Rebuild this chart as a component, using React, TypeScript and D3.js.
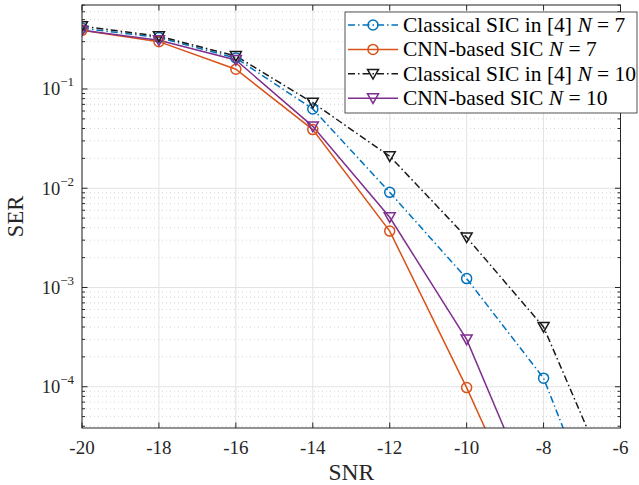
import * as d3 from 'd3';
import React from 'react';

// SNR points (dB)
const snr = [-20, -18, -16, -14, -12, -10, -8, -6];

// symbol error rate per scheme
const classicalN7 = [0.41, 0.33, 0.205, 0.063, 0.0091, 0.00123, 0.000122, 1.3e-6];
const cnnN7 = [0.39, 0.30, 0.158, 0.039, 0.0037, 0.000098, 1.9e-6];
const classicalN10 = [0.43, 0.34, 0.215, 0.0727, 0.021, 0.0032, 0.0004, 6.3e-6];
const cnnN10 = [0.39, 0.31, 0.196, 0.042, 0.0051, 0.0003, 4.4e-6];

const xTicks = [-20, -18, -16, -14, -12, -10, -8, -6];
const yDecades = [-4, -3, -2, -1];

const series = [
  { name: 'Classical SIC in [4]', n: 7, values: classicalN7, color: '#0072BD', dash: '7,3,1.5,3', marker: 'circle' },
  { name: 'CNN-based SIC', n: 7, values: cnnN7, color: '#D95319', dash: null, marker: 'circle' },
  { name: 'Classical SIC in [4]', n: 10, values: classicalN10, color: '#1a1a1a', dash: '7,3,1.5,3', marker: 'triangle' },
  { name: 'CNN-based SIC', n: 10, values: cnnN10, color: '#7E2F8E', dash: null, marker: 'triangle' },
];

const W = 639;
const H = 485;
const plot = { left: 82, right: 620.5, top: 5, bottom: 428 };
const font = '"Liberation Serif", serif';

function Marker({ type, x, y, color }: { type: string; x: number; y: number; color: string }) {
  if (type === 'circle') {
    return <circle cx={x} cy={y} r={5} fill="none" stroke={color} strokeWidth={1.5} />;
  }
  const s = 5.5;
  return (
    <path
      d={`M${x - s},${y - s * 0.8}L${x + s},${y - s * 0.8}L${x},${y + s * 0.95}Z`}
      fill="none"
      stroke={color}
      strokeWidth={1.5}
      strokeLinejoin="miter"
    />
  );
}

export default function App() {
  const x = d3.scaleLinear().domain([-20, -6]).range([plot.left, plot.right]);
  const y = d3.scaleLog().domain([3.84e-5, 0.702]).range([plot.bottom, plot.top]);

  const line = d3
    .line<[number, number]>()
    .x((d) => x(d[0]))
    .y((d) => y(d[1]));

  const minor: number[] = [];
  for (let e = -5; e <= -1; e++) {
    for (let k = 2; k <= 9; k++) {
      const v = k * Math.pow(10, e);
      if (v > 3.84e-5 && v < 0.702) minor.push(v);
    }
  }

  const axisColor = '#262626';
  const legend = { x: 345, y: 12, w: 292, h: 101 };

  return (
    <svg
      width={W}
      height={H}
      style={{ position: 'absolute', left: 0, top: 0, background: '#fff' }}
      fontFamily={font}
    >
      <defs>
        <clipPath id="plot-clip">
          <rect x={plot.left} y={plot.top} width={plot.right - plot.left} height={plot.bottom - plot.top} />
        </clipPath>
      </defs>

      {/* grid */}
      {minor.map((v) => (
        <line
          key={`mg-${v}`}
          x1={plot.left}
          x2={plot.right}
          y1={y(v)}
          y2={y(v)}
          stroke="#b8b8b8"
          strokeWidth={0.6}
          strokeDasharray="1,3"
        />
      ))}
      {yDecades.map((e) => (
        <line key={`yg-${e}`} x1={plot.left} x2={plot.right} y1={y(Math.pow(10, e))} y2={y(Math.pow(10, e))} stroke="#e3e3e3" strokeWidth={1} />
      ))}
      {xTicks.map((t) => (
        <line key={`xg-${t}`} x1={x(t)} x2={x(t)} y1={plot.top} y2={plot.bottom} stroke="#e3e3e3" strokeWidth={1} />
      ))}

      {/* curves */}
      <g clipPath="url(#plot-clip)">
        {series.map((s, i) => (
          <path
            key={`line-${i}`}
            d={line(s.values.map((v, j) => [snr[j], v] as [number, number])) || ''}
            fill="none"
            stroke={s.color}
            strokeWidth={1.5}
            strokeDasharray={s.dash || undefined}
          />
        ))}
        {series.map((s, i) => (
          <g key={`marks-${i}`}>
            {s.values.map((v, j) => (
              <Marker key={j} type={s.marker} x={x(snr[j])} y={y(v)} color={s.color} />
            ))}
          </g>
        ))}
      </g>

      {/* axes box and ticks */}
      <rect
        x={plot.left}
        y={plot.top}
        width={plot.right - plot.left}
        height={plot.bottom - plot.top}
        fill="none"
        stroke={axisColor}
        strokeWidth={1}
      />
      {xTicks.map((t) => (
        <g key={`xt-${t}`}>
          <line x1={x(t)} x2={x(t)} y1={plot.bottom} y2={plot.bottom - 5.5} stroke={axisColor} />
          <line x1={x(t)} x2={x(t)} y1={plot.top} y2={plot.top + 5.5} stroke={axisColor} />
          <text x={x(t)} y={454} textAnchor="middle" fontSize={19} fill="#262626">
            {t}
          </text>
        </g>
      ))}
      {yDecades.map((e) => (
        <g key={`yt-${e}`}>
          <line x1={plot.left} x2={plot.left + 5.5} y1={y(Math.pow(10, e))} y2={y(Math.pow(10, e))} stroke={axisColor} />
          <line x1={plot.right} x2={plot.right - 5.5} y1={y(Math.pow(10, e))} y2={y(Math.pow(10, e))} stroke={axisColor} />
          <text x={74} y={y(Math.pow(10, e)) + 6.5} textAnchor="end" fontSize={18.5} fill="#262626">
            10
            <tspan dy={-9} fontSize={13}>
              {`\u2212${-e}`}
            </tspan>
          </text>
        </g>
      ))}
      {minor.map((v) => (
        <g key={`ym-${v}`}>
          <line x1={plot.left} x2={plot.left + 3} y1={y(v)} y2={y(v)} stroke={axisColor} />
          <line x1={plot.right} x2={plot.right - 3} y1={y(v)} y2={y(v)} stroke={axisColor} />
        </g>
      ))}

      {/* axis titles */}
      <text x={(plot.left + plot.right) / 2} y={480} textAnchor="middle" fontSize={23.5} fill="#262626">
        SNR
      </text>
      <text
        transform={`translate(23, ${(plot.top + plot.bottom) / 2}) rotate(-90)`}
        textAnchor="middle"
        fontSize={22.5}
        fill="#262626"
      >
        SER
      </text>

      {/* legend */}
      <rect x={legend.x} y={legend.y} width={legend.w} height={legend.h} fill="#fff" stroke={axisColor} strokeWidth={0.8} />
      {series.map((s, i) => {
        const ry = 25 + i * 24.4;
        return (
          <g key={`leg-${i}`}>
            <line x1={348} x2={398} y1={ry} y2={ry} stroke={s.color} strokeWidth={1.5} strokeDasharray={s.dash || undefined} />
            <Marker type={s.marker} x={373} y={ry} color={s.color} />
            <text x={403} y={ry + 7} fontSize={21.5} fill="#000">
              {`${s.name} `}
              <tspan fontStyle="italic">N</tspan>
              {` = ${s.n}`}
            </text>
          </g>
        );
      })}
    </svg>
  );
}
